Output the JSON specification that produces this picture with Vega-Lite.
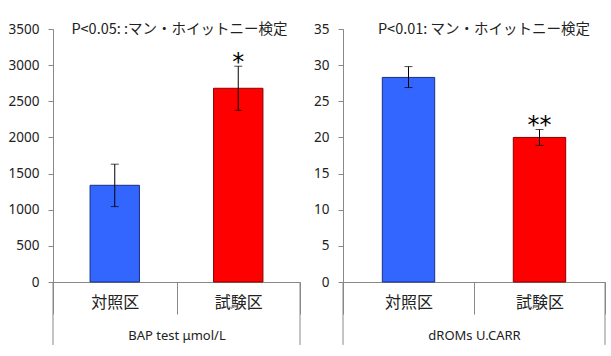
{
  "$schema": "https://vega.github.io/schema/vega-lite/v6.json",
  "padding": {"left": 8, "top": 21, "right": 5, "bottom": 5},
  "spacing": 12,
  "background": "white",
  "config": {
    "view": {"stroke": null},
    "axisY": {"domainColor": "#888", "tickColor": "#888", "tickSize": 5, "labelPadding": 9, "labelFont": "Noto Sans", "labelFontSize": 13.5, "labelColor": "#222", "grid": false, "title": null, "format": "d", "labelOverlap": false, "labelBound": false, "labelFlush": false},
    "axisX": {"domainColor": "#888", "tickColor": "#888", "tickBand": "extent", "tickSize": 32, "labelAngle": 0, "labelPadding": -20, "labelFont": "Noto Sans CJK JP", "labelFontSize": 16, "labelColor": "#222", "titleFont": "Noto Sans", "titleFontSize": 13, "titleFontWeight": "normal", "titleColor": "#222", "titlePadding": 15},
    "title": {"font": "Noto Sans CJK JP", "fontSize": 14.5, "fontWeight": "normal", "color": "#222", "anchor": "middle", "baseline": "bottom", "offset": -15}
  },
  "hconcat": [
    {
      "width": 247,
      "height": 253,
      "title": {"text": "P<0.05: :マン・ホイットニー検定", "dx": 3},
      "data": {"values": [
        {"group": "対照区", "value": 1338, "lo": 1043, "hi": 1630, "sig": ""},
        {"group": "試験区", "value": 2680, "lo": 2375, "hi": 2985, "sig": "*"}
      ]},
      "encoding": {
        "x": {"field": "group", "type": "nominal", "scale": {"domain": ["対照区", "試験区"], "paddingInner": 0, "paddingOuter": 0}, "axis": {"title": "BAP test μmol/L"}}
      },
      "layer": [
        {
          "mark": {"type": "bar", "width": {"band": 0.4}, "strokeWidth": 1},
          "encoding": {
            "y": {"field": "value", "type": "quantitative", "scale": {"domain": [0, 3500]}, "axis": {"values": [0, 500, 1000, 1500, 2000, 2500, 3000, 3500]}},
            "fill": {"field": "group", "type": "nominal", "scale": {"domain": ["対照区", "試験区"], "range": ["#3366FF", "#FF0000"]}, "legend": null},
            "stroke": {"field": "group", "type": "nominal", "scale": {"domain": ["対照区", "試験区"], "range": ["#1A2F80", "#8B0000"]}, "legend": null}
          }
        },
        {
          "mark": {"type": "rule", "color": "black", "strokeWidth": 1},
          "encoding": {"y": {"field": "lo", "type": "quantitative", "axis": {"values": [0, 500, 1000, 1500, 2000, 2500, 3000, 3500]}}, "y2": {"field": "hi"}}
        },
        {
          "mark": {"type": "tick", "color": "black", "size": 8, "thickness": 1},
          "encoding": {"y": {"field": "lo", "type": "quantitative", "axis": {"values": [0, 500, 1000, 1500, 2000, 2500, 3000, 3500]}}}
        },
        {
          "mark": {"type": "tick", "color": "black", "size": 8, "thickness": 1},
          "encoding": {"y": {"field": "hi", "type": "quantitative", "axis": {"values": [0, 500, 1000, 1500, 2000, 2500, 3000, 3500]}}}
        },
        {
          "mark": {"type": "text", "fontSize": 24, "font": "DejaVu Sans", "baseline": "alphabetic", "dy": 4, "color": "black"},
          "encoding": {"y": {"field": "hi", "type": "quantitative", "axis": {"values": [0, 500, 1000, 1500, 2000, 2500, 3000, 3500]}}, "text": {"field": "sig"}}
        },
        {
          "transform": [{"filter": "datum.group == '対照区'"}],
          "mark": {"type": "rule", "color": "#888"},
          "encoding": {
            "x": {"field": "group", "type": "nominal", "bandPosition": 0, "scale": {"domain": ["対照区", "試験区"]}},
            "y": {"datum": 0, "type": "quantitative", "axis": {"values": [0, 500, 1000, 1500, 2000, 2500, 3000, 3500]}},
            "y2": {"datum": -871}
          }
        },
        {
          "transform": [{"filter": "datum.group == '試験区'"}],
          "mark": {"type": "rule", "color": "#888"},
          "encoding": {
            "x": {"field": "group", "type": "nominal", "bandPosition": 1, "scale": {"domain": ["対照区", "試験区"]}},
            "y": {"datum": 0, "type": "quantitative", "axis": {"values": [0, 500, 1000, 1500, 2000, 2500, 3000, 3500]}},
            "y2": {"datum": -871}
          }
        }
      ]
    },
    {
      "width": 262,
      "height": 253,
      "title": {"text": "P<0.01: マン・ホイットニー検定", "dx": 10},
      "data": {"values": [
        {"group": "対照区", "value": 28.3, "lo": 26.9, "hi": 29.8, "sig": ""},
        {"group": "試験区", "value": 20.0, "lo": 18.9, "hi": 21.1, "sig": "**"}
      ]},
      "encoding": {
        "x": {"field": "group", "type": "nominal", "scale": {"domain": ["対照区", "試験区"], "paddingInner": 0, "paddingOuter": 0}, "axis": {"title": "dROMs U.CARR"}}
      },
      "layer": [
        {
          "mark": {"type": "bar", "width": {"band": 0.4}, "strokeWidth": 1},
          "encoding": {
            "y": {"field": "value", "type": "quantitative", "scale": {"domain": [0, 35]}, "axis": {"values": [0, 5, 10, 15, 20, 25, 30, 35]}},
            "fill": {"field": "group", "type": "nominal", "scale": {"domain": ["対照区", "試験区"], "range": ["#3366FF", "#FF0000"]}, "legend": null},
            "stroke": {"field": "group", "type": "nominal", "scale": {"domain": ["対照区", "試験区"], "range": ["#1A2F80", "#8B0000"]}, "legend": null}
          }
        },
        {
          "mark": {"type": "rule", "color": "black", "strokeWidth": 1},
          "encoding": {"y": {"field": "lo", "type": "quantitative", "axis": {"values": [0, 5, 10, 15, 20, 25, 30, 35]}}, "y2": {"field": "hi"}}
        },
        {
          "mark": {"type": "tick", "color": "black", "size": 8, "thickness": 1},
          "encoding": {"y": {"field": "lo", "type": "quantitative", "axis": {"values": [0, 5, 10, 15, 20, 25, 30, 35]}}}
        },
        {
          "mark": {"type": "tick", "color": "black", "size": 8, "thickness": 1},
          "encoding": {"y": {"field": "hi", "type": "quantitative", "axis": {"values": [0, 5, 10, 15, 20, 25, 30, 35]}}}
        },
        {
          "mark": {"type": "text", "fontSize": 24, "font": "DejaVu Sans", "baseline": "alphabetic", "dy": 4, "color": "black"},
          "encoding": {"y": {"field": "hi", "type": "quantitative", "axis": {"values": [0, 5, 10, 15, 20, 25, 30, 35]}}, "text": {"field": "sig"}}
        },
        {
          "transform": [{"filter": "datum.group == '対照区'"}],
          "mark": {"type": "rule", "color": "#888"},
          "encoding": {
            "x": {"field": "group", "type": "nominal", "bandPosition": 0, "scale": {"domain": ["対照区", "試験区"]}},
            "y": {"datum": 0, "type": "quantitative", "axis": {"values": [0, 5, 10, 15, 20, 25, 30, 35]}},
            "y2": {"datum": -8.7}
          }
        },
        {
          "transform": [{"filter": "datum.group == '試験区'"}],
          "mark": {"type": "rule", "color": "#888"},
          "encoding": {
            "x": {"field": "group", "type": "nominal", "bandPosition": 1, "scale": {"domain": ["対照区", "試験区"]}},
            "y": {"datum": 0, "type": "quantitative", "axis": {"values": [0, 5, 10, 15, 20, 25, 30, 35]}},
            "y2": {"datum": -8.7}
          }
        }
      ]
    }
  ]
}
